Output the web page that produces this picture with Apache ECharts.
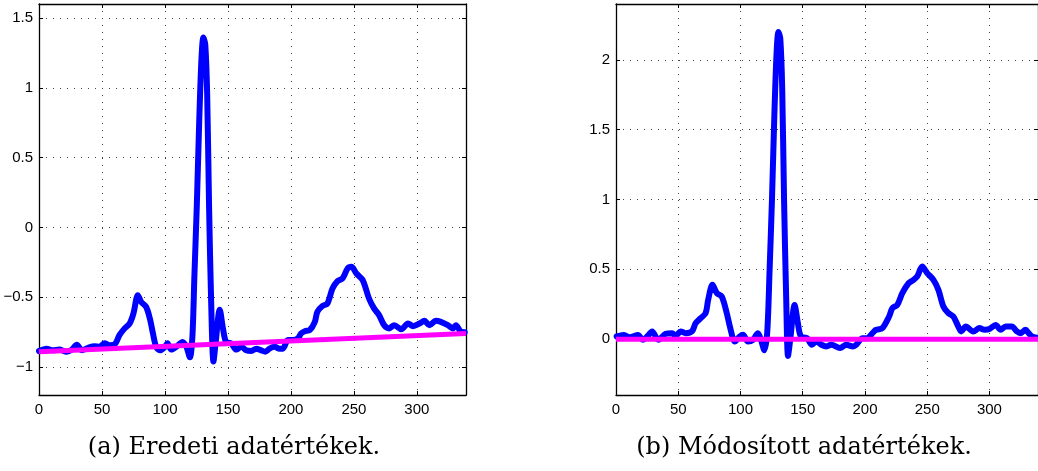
<!DOCTYPE html>
<html>
<head>
<meta charset="utf-8">
<script src="https://cdn.jsdelivr.net/npm/echarts@6/dist/echarts.min.js"></script>
<style>
html,body{margin:0;padding:0;background:#fff;}
#c{width:1038px;height:471px;}
</style>
</head>
<body>
<div id="c"></div>
<script>
// ---- Data ----
// Panel (a): original values
const origX = [0, 6, 11, 16, 22, 26, 30, 34, 39, 44, 48, 52, 56, 60, 64, 68, 72, 75, 78.5, 81, 85, 88, 90.5, 93, 96, 100, 102, 105, 109, 114, 117, 119.8, 121.8, 123.4, 125.3, 127.2, 129, 130.5, 132, 133.5, 135, 136.7, 138.5, 140.2, 143.5, 146, 148.5, 152.6, 156.6, 160.6, 164.5, 168.5, 172.5, 176.5, 179.6, 183, 187, 191, 193.6, 197.6, 201.6, 205.6, 208, 211, 215, 219, 221, 225, 229, 233, 237, 241, 245, 248, 252, 257, 262, 266, 270, 274, 278, 282, 287.6, 293, 297, 302, 306, 310, 315, 319, 324.6, 328.6, 331, 335, 338];
const origY = [-0.885, -0.868, -0.88, -0.875, -0.89, -0.875, -0.84, -0.88, -0.862, -0.85, -0.855, -0.83, -0.843, -0.838, -0.77, -0.723, -0.688, -0.616, -0.485, -0.532, -0.568, -0.652, -0.76, -0.855, -0.88, -0.855, -0.83, -0.875, -0.855, -0.82, -0.855, -0.93, -0.78, -0.34, 0.16, 0.76, 1.21, 1.36, 1.31, 0.96, 0.16, -0.54, -0.96, -0.83, -0.59, -0.72, -0.82, -0.83, -0.875, -0.855, -0.88, -0.885, -0.868, -0.88, -0.89, -0.868, -0.855, -0.868, -0.868, -0.807, -0.807, -0.795, -0.76, -0.743, -0.735, -0.676, -0.604, -0.563, -0.544, -0.437, -0.384, -0.365, -0.294, -0.282, -0.33, -0.377, -0.509, -0.58, -0.628, -0.7, -0.723, -0.7, -0.73, -0.688, -0.707, -0.688, -0.669, -0.7, -0.669, -0.676, -0.7, -0.723, -0.7, -0.747, -0.75];
// Panel (a): fitted trend line (end points)
const trendX = [0, 339];
const trendY = [-0.89, -0.76];

// Panel (b): modified values
const modX = [0.5, 6, 11, 17.7, 21.6, 25.6, 29, 34, 40, 45, 48, 52, 56, 61, 64, 68, 72, 74, 77.5, 81, 85, 89, 91.5, 95.5, 99.4, 102, 106, 110, 114, 116.5, 119.2, 121.5, 123.4, 125.3, 127.2, 129, 130.5, 132, 133.5, 135, 136.7, 138.2, 140, 143.5, 146, 148.5, 153.5, 157.4, 161, 165, 169, 173, 180, 185, 190.4, 193, 198, 202, 206, 209, 214, 219.4, 222, 226, 230, 235, 239, 242, 246, 250, 255, 259, 263, 267, 271, 275, 277.4, 281, 287, 292, 296, 300, 305, 309, 313, 318, 322, 325, 329, 331.5, 334, 338];
const modY = [0.02, 0.03, 0.014, 0.03, -0.005, 0.024, 0.055, -0.005, 0.038, 0.043, 0.024, 0.055, 0.043, 0.055, 0.114, 0.15, 0.186, 0.28, 0.389, 0.33, 0.305, 0.186, 0.09, -0.017, 0.019, 0.031, -0.017, -0.005, 0.043, -0.005, -0.08, 0.05, 0.5, 1.0, 1.6, 2.05, 2.2, 2.15, 1.8, 1.0, 0.3, -0.12, 0.0, 0.245, 0.12, 0.02, 0.007, -0.04, -0.017, -0.04, -0.052, -0.04, -0.064, -0.04, -0.052, -0.04, 0.007, 0.007, 0.043, 0.067, 0.079, 0.162, 0.222, 0.246, 0.329, 0.4, 0.425, 0.449, 0.52, 0.473, 0.425, 0.353, 0.234, 0.186, 0.162, 0.09, 0.055, 0.09, 0.055, 0.079, 0.067, 0.072, 0.102, 0.067, 0.09, 0.09, 0.055, 0.043, 0.067, 0.043, 0.02, 0.01];
// Panel (b): zero reference line
const zeroX = [0, 339];
const zeroY = [0, 0];

// Axis settings
const xRange = [0, 339];
const yRangeA = [-1.2, 1.6];
const yRangeB = [-0.4, 2.4];
const captions = ['(a) Eredeti adatértékek.', '(b) Módosított adatértékek.'];

// ---- Build ----
const zip = (xs, ys) => xs.map((x, i) => [x, ys[i]]);
const fmt = v => String(Math.round(v * 100) / 100).replace('-', '\u2212');
const labelFont = {fontFamily: 'Liberation Sans, Arial, sans-serif', fontSize: 15, color: '#000'};
const gridLine = {show: true, lineStyle: {color: '#444', width: 1, type: [1, 6]}};
const tickIn = {show: true, inside: true, length: 4, lineStyle: {color: '#000', width: 1}};

function xAxes(gi) {
  return [
    {type: 'value', gridIndex: gi, position: 'bottom', min: xRange[0], max: xRange[1], splitNumber: 7,
     minInterval: 50, maxInterval: 50,
     axisLine: {show: true, onZero: false, lineStyle: {color: '#000', width: 1.3}},
     axisTick: tickIn, splitLine: gridLine,
     axisLabel: Object.assign({margin: 7, showMaxLabel: false, formatter: fmt}, labelFont)},
    {type: 'value', gridIndex: gi, position: 'top', min: xRange[0], max: xRange[1], splitNumber: 7,
     minInterval: 50, maxInterval: 50,
     axisLine: {show: true, onZero: false, lineStyle: {color: '#000', width: 1.3}},
     axisTick: tickIn, splitLine: {show: false}, axisLabel: {show: false}}
  ];
}
function yAxes(gi, r) {
  return [
    {type: 'value', gridIndex: gi, position: 'left', min: r[0], max: r[1], splitNumber: 6,
     minInterval: 0.5, maxInterval: 0.5,
     axisLine: {show: true, onZero: false, lineStyle: {color: '#000', width: 1.3}},
     axisTick: tickIn, splitLine: gridLine,
     axisLabel: Object.assign({margin: 6, showMinLabel: false, showMaxLabel: false, formatter: fmt}, labelFont)},
    {type: 'value', gridIndex: gi, position: 'right', min: r[0], max: r[1], splitNumber: 6,
     minInterval: 0.5, maxInterval: 0.5,
     axisLine: {show: true, onZero: false, lineStyle: {color: '#000', width: 1.3}},
     axisTick: tickIn, splitLine: {show: false}, axisLabel: {show: false}}
  ];
}

const blue = {color: '#0000ff', width: 6, cap: 'round', join: 'round'};
const pink = {color: '#ff00ff', width: 5, cap: 'butt'};

const option = {
  animation: false,
  backgroundColor: '#fff',
  grid: [
    {left: 39, top: 4, width: 427, height: 391},
    {left: 616, top: 4, width: 427, height: 391}
  ],
  xAxis: xAxes(0).concat(xAxes(1)),
  yAxis: yAxes(0, yRangeA).concat(yAxes(1, yRangeB)),
  series: [
    {type: 'line', xAxisIndex: 0, yAxisIndex: 0, data: zip(origX, origY), showSymbol: false, smooth: 0.3, lineStyle: blue, z: 3},
    {type: 'line', xAxisIndex: 0, yAxisIndex: 0, data: zip(trendX, trendY), showSymbol: false, lineStyle: pink, z: 4},
    {type: 'line', xAxisIndex: 2, yAxisIndex: 2, data: zip(modX, modY), showSymbol: false, smooth: 0.3, lineStyle: blue, z: 3},
    {type: 'line', xAxisIndex: 2, yAxisIndex: 2, data: zip(zeroX, zeroY), showSymbol: false, lineStyle: pink, z: 4}
  ],
  graphic: [
    {type: 'text', x: 234, y: 448, style: {text: captions[0], align: 'center', verticalAlign: 'middle', font: '24px "DejaVu Serif", serif', fill: '#000'}},
    {type: 'text', x: 804, y: 448, style: {text: captions[1], align: 'center', verticalAlign: 'middle', font: '24px "DejaVu Serif", serif', fill: '#000'}}
  ]
};

const chart = echarts.init(document.getElementById('c'), null, {renderer: 'canvas'});
chart.setOption(option);
</script>
</body>
</html>
